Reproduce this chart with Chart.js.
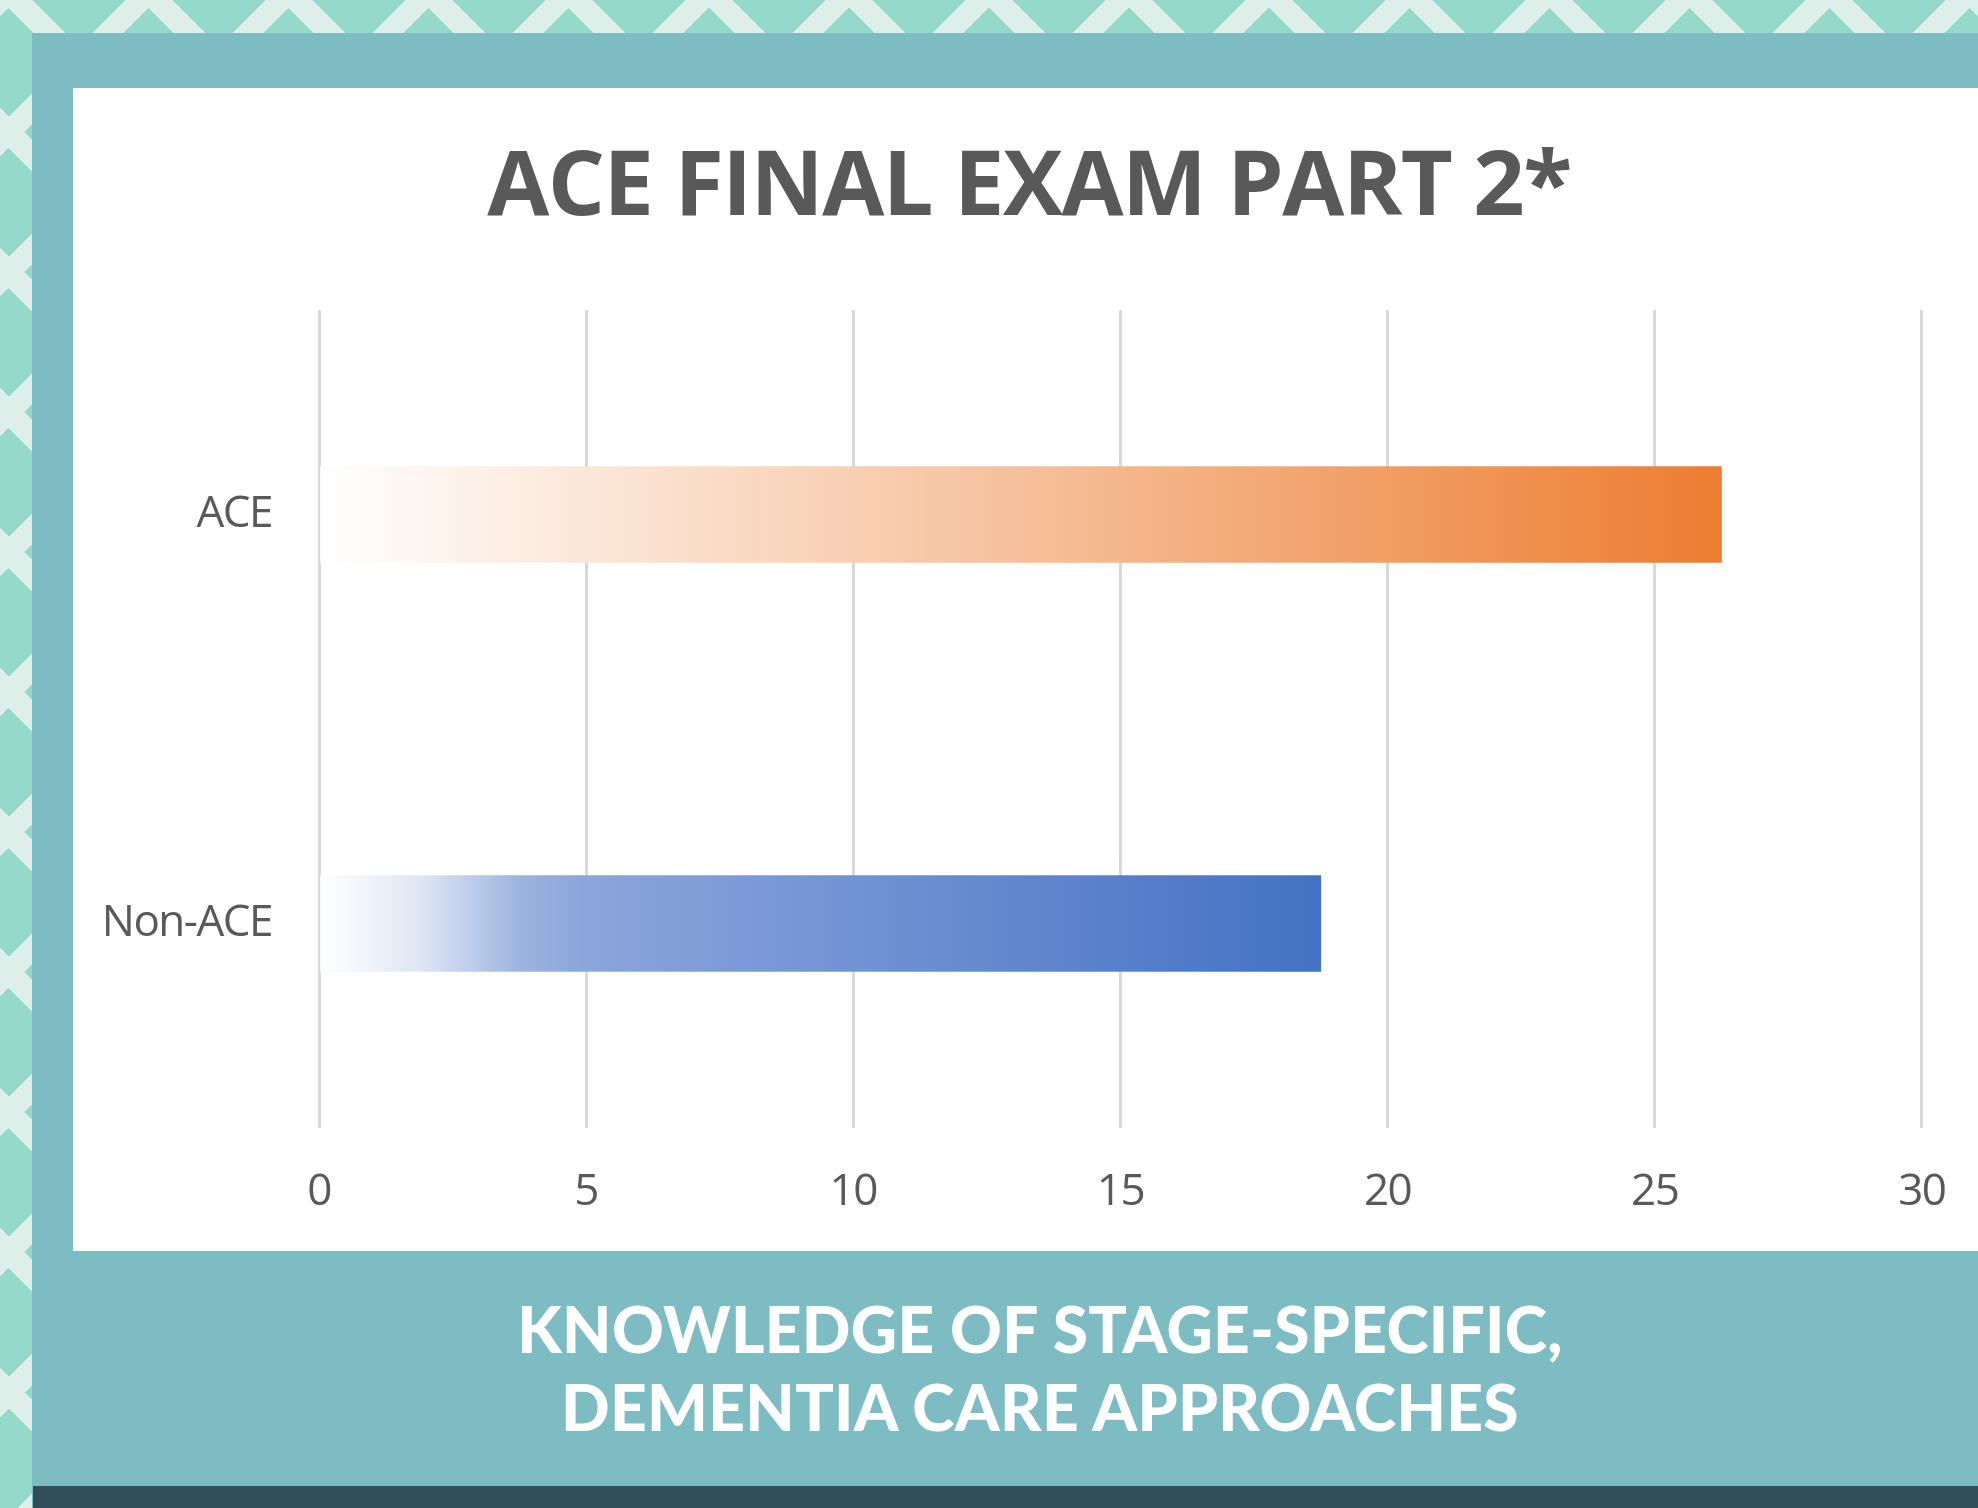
<!DOCTYPE html>
<html>
<head>
<meta charset="utf-8">
<script src="https://cdn.jsdelivr.net/npm/chart.js@4"></script>
<style>
  html, body { margin: 0; padding: 0; }
  body {
    width: 1978px; height: 1508px; overflow: hidden; position: relative;
    background-color: #95d9ca;
    background-image:
      repeating-linear-gradient(45deg, transparent 0 77px, #deefea 77px 99px),
      repeating-linear-gradient(-45deg, transparent 0 77px, #deefea 77px 99px);
  }
  #frame { position: absolute; left: 32px; top: 33px; right: 0; bottom: 0; background: #7dbcc3; }
  #panel { position: absolute; left: 73px; top: 88px; width: 1905px; height: 1163px; background: #ffffff; }
  #dark { position: absolute; left: 33px; top: 1486px; right: 0; height: 22px; background: #314e5a; }
  #caption {
    position: absolute; left: 102px; width: 1876px; top: 1290px;
    text-align: center; color: #ffffff;
    font-family: Lato, "Open Sans", sans-serif; font-weight: 900; font-size: 64px; line-height: 78px;
    letter-spacing: 0.3px;
  }
  #wrap { position: absolute; left: 73px; top: 88px; width: 1905px; height: 1163px; overflow: hidden; }
  canvas { position: absolute; left: 0; top: 0; }
</style>
</head>
<body>
<div id="frame"></div>
<div id="panel"></div>
<div id="dark"></div>
<div id="wrap"><canvas id="c" width="1912" height="1163"></canvas></div>
<div id="caption">KNOWLEDGE OF STAGE-SPECIFIC,<br>DEMENTIA CARE APPROACHES</div>
<script>
const chartTitle = 'ACE FINAL EXAM PART 2*';
const categories = ['ACE', 'Non-ACE'];
const scores = [26.25, 18.75];
const xTicks = [0, 5, 10, 15, 20, 25, 30];

const gradientStops = [
  [[0, 'rgba(255,255,255,1)'], [0.5, '#f6c09b'], [1, '#ed7d31']],
  [[0, 'rgba(255,255,255,1)'], [0.1, '#dfe6f4'], [0.2, '#9db4e0'], [0.26, '#8ca6dc'], [0.55, '#7091d3'], [1, '#4472c4']]
];

function barFill(ctx) {
  const chart = ctx.chart;
  if (!chart.chartArea || !chart.scales.x) return '#cccccc';
  const x = chart.scales.x;
  const x0 = x.getPixelForValue(0);
  const x1 = x.getPixelForValue(ctx.raw);
  const g = chart.ctx.createLinearGradient(x0, 0, x1, 0);
  gradientStops[ctx.dataIndex].forEach(s => g.addColorStop(s[0], s[1]));
  return g;
}

const tightText = {
  id: 'tightText',
  beforeDraw(chart) { chart.ctx.letterSpacing = '-1.5px'; }
};

new Chart(document.getElementById('c'), {
  type: 'bar',
  data: {
    labels: categories,
    datasets: [{
      data: scores,
      backgroundColor: barFill,
      borderWidth: 0,
      barThickness: 96
    }]
  },
  plugins: [tightText],
  options: {
    indexAxis: 'y',
    responsive: false,
    devicePixelRatio: 1,
    animation: false,
    layout: { padding: { left: 0, right: 0, top: 0, bottom: 0 } },
    plugins: {
      legend: { display: false },
      tooltip: { enabled: false },
      title: {
        display: true,
        text: chartTitle,
        color: '#595959',
        font: { family: 'Open Sans', weight: 'bold', size: 90, lineHeight: 1.2 },
        padding: { top: 47, bottom: 67 }
      }
    },
    scales: {
      x: {
        min: 0, max: 30,
        afterBuildTicks: (s) => { s.ticks = xTicks.map(v => ({ value: v })); },
        afterFit: (s) => { s.height = 123; },
        grid: { color: '#d9d9d9', lineWidth: 3, drawTicks: false },
        border: { display: false },
        ticks: { color: '#595959', font: { family: 'Open Sans', size: 44 }, padding: 38, maxRotation: 0 }
      },
      y: {
        afterFit: (s) => { s.width = 246; },
        grid: { display: false, drawTicks: false },
        border: { display: false },
        ticks: { color: '#595959', font: { family: 'Open Sans', size: 44 }, padding: 47 }
      }
    }
  }
});
</script>
</body>
</html>
